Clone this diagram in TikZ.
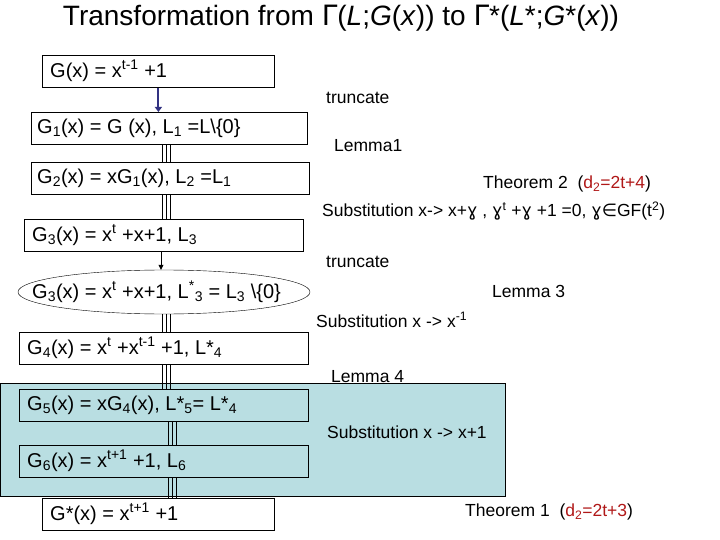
\documentclass[tikz,border=0pt]{standalone}
\usepackage{fontspec}
\setmainfont{Liberation Sans}
\newfontfamily\djv{DejaVu Sans}
\usetikzlibrary{shapes.geometric,arrows.meta}
\definecolor{teal1}{HTML}{B9DEE2}
\definecolor{dred}{HTML}{B01818}
\newcommand{\gm}{{\djv ɣ}}
\newcommand{\tripl}[3]{\foreach \dx in {-4,0,4} \draw[line width=0.6pt] (#1 -| #3+\dx,0) -- (#2 -| #3+\dx,0);}
\begin{document}
\begin{tikzpicture}[x=1pt,y=-1pt,
 bx/.style={draw,thick,minimum height=32pt,anchor=north west,inner sep=0pt},
 tx/.style={anchor=west,inner sep=0pt,font=\fontsize{20}{22}\selectfont},
 lb/.style={anchor=west,inner sep=0pt,font=\fontsize{17.5}{20}\selectfont}]
\useasboundingbox (0,0) rectangle (720,540);
\node[font=\fontsize{28}{32}\selectfont,anchor=center] (title) at (341,18) {Transformation from {\djv Γ}(\textit{L};\textit{G}(\textit{x})) to {\djv Γ}*(\textit{L}*;\textit{G}*(\textit{x}))};
\fill[teal1] (0,383) rectangle (505,496);
\draw[thin] (0,383) rectangle (505,496);
\node[bx,minimum width=232pt] (b0) at (42,55) {};
\node[tx] at (50,71) {G(x) = x\textsuperscript{t-1} +1};
\node[bx,minimum width=276pt] (b1) at (31,112) {};
\node[tx] at (37,128) {G\textsubscript{1}(x) = G (x), L\textsubscript{1} =L\textbackslash\{0\}};
\node[bx,minimum width=278pt] (b2) at (31,162) {};
\node[tx] at (37,178) {G\textsubscript{2}(x) = xG\textsubscript{1}(x), L\textsubscript{2} =L\textsubscript{1}};
\node[bx,minimum width=279pt] (b3) at (24,219) {};
\node[tx] at (32,235) {G\textsubscript{3}(x) = x\textsuperscript{t} +x+1, L\textsubscript{3}};
\node[ellipse,draw,thin,minimum width=292pt,minimum height=44pt,inner sep=0pt] (e) at (164,292) {};
\node[tx] at (32,292) {G\textsubscript{3}(x) = x\textsuperscript{t} +x+1, L\textsuperscript{*}\textsubscript{3} = L\textsubscript{3} \textbackslash\{0\}};
\node[bx,minimum width=289pt] (b4) at (19,332) {};
\node[tx] at (27,348) {G\textsubscript{4}(x) = x\textsuperscript{t} +x\textsuperscript{t-1} +1, L*\textsubscript{4}};
\node[bx,minimum width=289pt,thin] (b5) at (19,389) {};
\node[tx] at (27,405) {G\textsubscript{5}(x) = xG\textsubscript{4}(x), L*\textsubscript{5}= L*\textsubscript{4}};
\node[bx,minimum width=289pt,thin] (b6) at (19,445) {};
\node[tx] at (27,461) {G\textsubscript{6}(x) = x\textsuperscript{t+1} +1, L\textsubscript{6}};
\node[bx,minimum width=232pt,fill=white] (b7) at (42,498) {};
\node[tx] at (50,514) {G*(x) = x\textsuperscript{t+1} +1};
% connectors
\draw[line width=2pt,draw={rgb,255:red,50;green,50;blue,130},-{Triangle[length=5pt,width=7pt]}] (b0.south) -- (b0.south |- b1.north);
\tripl{b1.south}{b2.north}{166}
\tripl{b2.south}{b3.north}{166}
\draw[-{Triangle[length=5pt,width=5pt]}] (161,251) -- (e.north -| 161,0);
\tripl{e.south}{b4.north}{166}
\tripl{b4.south}{b5.north}{166}
\tripl{b5.south}{b6.north}{172}
\tripl{b6.south}{b7.north}{172}
% labels
\node[lb] (l1) at (326,98) {truncate};
\node[lb] (l2) at (334,146) {Lemma1};
\node[lb] (l3) at (483,184) {Theorem 2\ \ (\textcolor{dred}{d\textsubscript{2}=2t+4})};
\node[lb] (l4) at (322,211) {Substitution x-> x+\gm\ , \gm\textsuperscript{t} +\gm\ +1 =0, \gm{\djv∈}GF(t\textsuperscript{2})};
\node[lb] (l5) at (326,262) {truncate};
\node[lb] (l6) at (492,291) {Lemma 3};
\node[lb] (l7) at (316,320) {Substitution x -> x\textsuperscript{-1}};
\node[lb] (l8) at (331,377) {Lemma 4};
\node[lb] (l9) at (327,432) {Substitution x -> x+1};
\node[lb] (l10) at (465,512) {Theorem 1\ \ (\textcolor{dred}{d\textsubscript{2}=2t+3})};
\end{tikzpicture}
\end{document}
